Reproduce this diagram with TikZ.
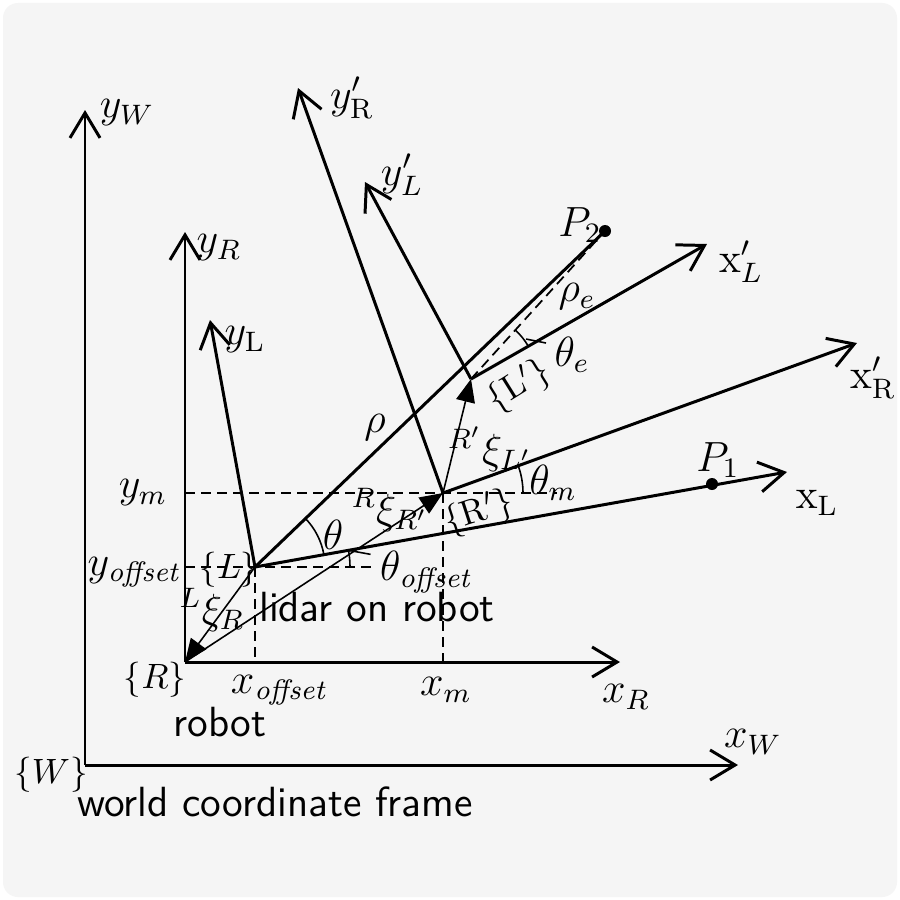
\documentclass[tikz,border=0pt]{standalone}
\usepackage{amsmath}
\usepackage{xcolor}
\usepackage{tikz}
\usetikzlibrary{arrows.meta}

\definecolor{panelgray}{HTML}{F5F5F5}

\begin{document}
\begin{tikzpicture}[
      x=0.01cm, y=-0.01cm,
      every node/.style={font=\large, inner sep=1pt},
      axis/.style={line width=0.85pt, -{Straight Barb[length=2.5mm,width=3mm]}},
      pose/.style={line width=0.45pt, -{Triangle[length=2.3mm,width=1.9mm]}},
      guide/.style={line width=0.5pt, dash pattern=on 1mm off 0.6mm},
      anglemark/.style={line width=0.45pt},
      framename/.style={font=\normalsize, inner sep=0.5pt},
      hand/.style={font=\sffamily\large},
      dot/.style={circle, fill, inner sep=0pt, minimum size=1.2mm}
    ]
    % background panel
    \useasboundingbox (0,0) rectangle (900,900);
    \fill[white] (0,0) rectangle (900,900);
    \fill[panelgray, rounded corners=0.15cm] (3,3) rectangle (897,897);

    % origins and axis ends
    \coordinate (W) at (85,765);
    \coordinate (W-x) at (738,765);
    \coordinate (W-y) at (85,110);
    \coordinate (R) at (185,662);
    \coordinate (R-x) at (620,662);
    \coordinate (R-y) at (185,232);
    \coordinate (L) at (255,567);
    \coordinate (L-x) at (787,472);
    \coordinate (L-y) at (210,320);
    \coordinate (Rp) at (443,493);
    \coordinate (Rp-x) at (857,343);
    \coordinate (Rp-y) at (298,88);
    \coordinate (Lp) at (471,379);
    \coordinate (Lp-x) at (707,244);
    \coordinate (Lp-y) at (365,182);

    % dashed guides
    \coordinate (yoff-a) at (185,567);
    \coordinate (yoff-b) at (372,567);
    \coordinate (xoff-a) at (255,662);
    \coordinate (ym-a) at (185,493);
    \coordinate (ym-b) at (557,493);
    \coordinate (xm-a) at (443,662);
    \draw[guide] (yoff-a) -- (L) -- (yoff-b);
    \draw[guide] (L) -- (xoff-a);
    \draw[guide] (ym-a) -- (Rp) -- (ym-b);
    \draw[guide] (Rp) -- (xm-a);

    % frames
    \draw[axis] (W) -- (W-x);
    \draw[axis] (W) -- (W-y);
    \draw[axis] (R) -- (R-x);
    \draw[axis] (R) -- (R-y);
    \draw[axis] (L) -- (L-x);
    \draw[axis] (L) -- (L-y);
    \draw[axis] (Rp) -- (Rp-x);
    \draw[axis] (Rp) -- (Rp-y);
    \draw[axis] (Lp) -- (Lp-x);
    \draw[axis] (Lp) -- (Lp-y);

    % points and ranges
    \node[dot] (P1) at (712,484) {};
    \node[dot] (P2) at (605,231) {};
    \draw[line width=0.85pt] (L) -- (P2.center);
    \draw[guide] (Lp) -- (P2.center);

    % transforms
    \draw[pose] (L) -- (R);
    \draw[pose] (R) -- (Rp);
    \draw[pose] (Rp) -- (Lp);

    % angles
    \draw[anglemark] (L) ++(-10.1:70) arc[start angle=-10.1, end angle=-43.8, radius=70];
    \draw[anglemark] (L) ++(95,0) arc[start angle=0, end angle=-10.1, radius=95]
      coordinate (thoff-m) -- ++(22,4);
    \draw[anglemark] (Rp) ++(80,0) arc[start angle=0, end angle=-19.9, radius=80];
    \draw[anglemark] (Lp) ++(-29.9:66) arc[start angle=-29.9, end angle=-47.8, radius=66];
    \draw[anglemark] (Lp) ++(-36:68) -- ++(20,4);

    % labels
    \node (yW) at (127,113) {$y_W$};
    \node (xW) at (753,742) {$x_W$};
    \node[framename] (Wlbl) at (51,775) {$\{W\}$};
    \node[hand] (world) at (275,802) {world coordinate frame};
    \node (yR) at (219,248) {$y_R$};
    \node (xR) at (626,697) {$x_R$};
    \node[framename] (Rlbl) at (155,680) {$\{R\}$};
    \node[hand] (robot) at (220,722) {robot};
    \node (xoff) at (280,690) {$x_{\mathit{offset}}$};
    \node (xm) at (446,690) {$x_m$};
    \node (ym) at (143,493) {$y_m$};
    \node (yoff) at (135,572) {$y_{\mathit{offset}}$};
    \node (yL) at (245,340) {$y_{\mathrm{L}}$};
    \node (xL) at (817,503) {$\mathrm{x}_{\mathrm{L}}$};
    \node (P1lbl) at (718,460) {$P_1$};
    \node (P2lbl) at (580,225) {$P_2$};
    \node[framename] (Llbl) at (229,570) {$\{L\}$};
    \node (th) at (333,535) {$\theta$};
    \node (thoff) at (427,572) {$\theta_{\mathit{offset}}$};
    \node (xiLR) at (212,610) {$^{L}\xi_{R}$};
    \node[hand] (lidar) at (377,607) {lidar on robot};
    \node (xiRR) at (390,510) {$^{R}\xi_{R'}$};
    \node[framename, rotate=18] (Rplbl) at (479,513) {\{R$'$\}};
    \node (thm) at (553,483) {$\theta_m$};
    \node (rho) at (375,428) {$\rho$};
    \node (xiRL) at (490,449) {$^{R'}\xi_{L'}$};
    \node[framename, rotate=32] (Lplbl) at (519,386) {\{L$'$\}};
    \node (the) at (572,355) {$\theta_e$};
    \node (rhoe) at (577,297) {$\rho_e$};
    \node (xLp) at (741,262) {$\mathrm{x}'_{L}$};
    \node (yLp) at (402,175) {$y'_{L}$};
    \node (xRp) at (873,378) {$\mathrm{x}'_{\mathrm{R}}$};
    \node (yRp) at (352,98) {$y'_{\mathrm{R}}$};
    \end{tikzpicture}
\end{document}
